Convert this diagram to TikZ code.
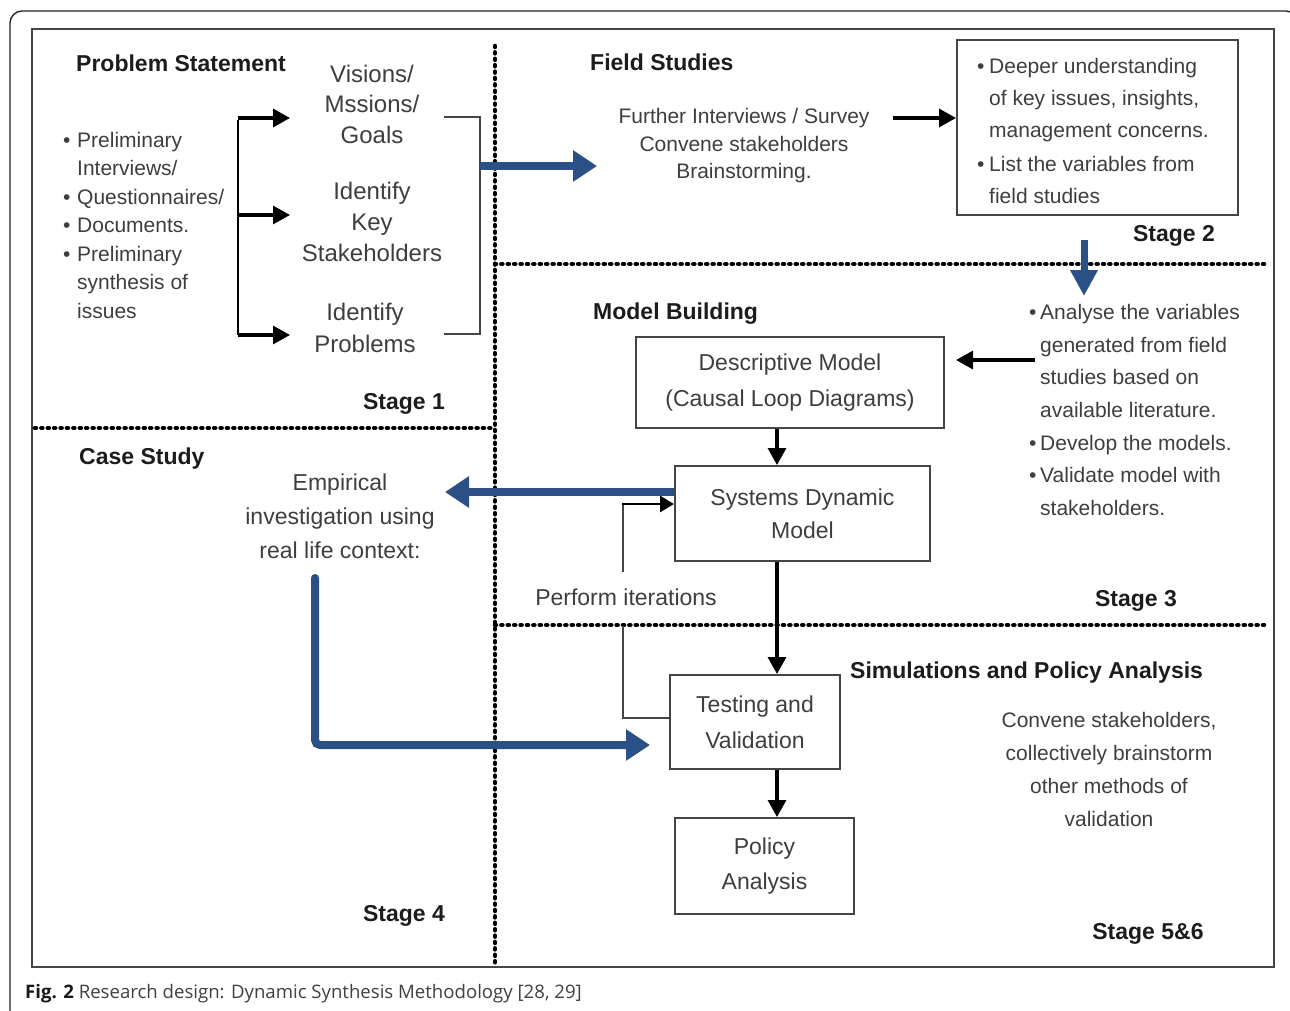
\documentclass[tikz,border=0pt]{standalone}
\usepackage{fontspec}
\setmainfont{Liberation Sans}
\newfontfamily\capfont{Open Sans}
\usetikzlibrary{arrows.meta}

\definecolor{txtgray}{HTML}{3E3E3E}
\definecolor{hdrblack}{HTML}{1C1C1C}
\definecolor{dsmblue}{HTML}{2B5086}
\definecolor{framegray}{HTML}{454545}

\begin{document}
\begin{tikzpicture}[x=1pt,y=-1pt,
  body/.style={text=txtgray, font=\fontsize{23}{34}\selectfont, align=center, inner sep=0pt},
  small/.style={text=txtgray, font=\fontsize{21}{28}\selectfont, align=left, inner sep=0pt},
  hdr/.style={text=hdrblack, font=\bfseries\fontsize{23}{27}\selectfont, inner sep=0pt},
  stagebox/.style={draw=framegray, line width=2pt, inner sep=0pt},
  blk/.style={draw=black, line width=3.2pt, -{Triangle[length=17pt,width=18pt]}},
  blu/.style={draw=dsmblue, line width=8pt, -{Triangle[length=24pt,width=30pt]}},
  guide/.style={draw=framegray, line width=1.6pt},
  dotline/.style={draw=black, line width=4.6pt, line cap=round, dash pattern=on 1pt off 5.4pt},
]
\useasboundingbox (0,0) rectangle (1290,1010);
\fill[white] (0,0) rectangle (1290,1010);

% outer rounded frame and the inner border
\draw[line width=1.4pt, draw=black!85, rounded corners=12pt] (10,1040) -- (10,11) -- (1298,11) -- (1298,1040);
\draw[line width=2.5pt, draw=framegray] (32,29) rectangle (1274,967);

% stage separators
\draw[dotline] (495,46) -- (495,964);
\draw[dotline] (35,428) -- (495,428);
\draw[dotline] (495,264) -- (1264,264);
\draw[dotline] (495,625) -- (1264,625);

% ---------------- Stage 1: problem statement
\node[hdr, anchor=west] (ps) at (76,63) {Problem Statement};
\node[small, anchor=west, font=\fontsize{21}{28.5}\selectfont] (pre) at (63,225)
  {\makebox[14pt][l]{•}Preliminary\\
   \hspace*{14pt}Interviews/\\
   \makebox[14pt][l]{•}Questionnaires/\\
   \makebox[14pt][l]{•}Documents.\\
   \makebox[14pt][l]{•}Preliminary\\
   \hspace*{14pt}synthesis of\\
   \hspace*{14pt}issues};
\node[body, font=\fontsize{24}{30.5}\selectfont] (vis) at (372,104) {Visions/\\Mssions/\\Goals};
\node[body, font=\fontsize{24}{31}\selectfont] (key) at (372,222) {Identify\\Key\\Stakeholders};
\node[body, font=\fontsize{24}{32}\selectfont] (prob) at (365,328) {Identify\\Problems};

\coordinate (fanT) at (238,118);
\coordinate (fanM) at (238,215);
\coordinate (fanB) at (238,335);
\draw[line width=2pt] ([yshift=-2pt]fanT) -- (fanB);
\draw[blk] (fanT) -- (fanT -| 290,0);
\draw[blk] (fanM) -- (fanM -| 290,0);
\draw[blk] (fanB) -- (fanB -| 290,0);

\coordinate (brT) at (444,117);
\coordinate (brB) at (444,334);
\draw[guide] (brT) -- (480,117) -- (480,334) -- (brB);

\coordinate (toFS) at (597,166);
\draw[blu] (480,166) -- (toFS);

\node[hdr] (st1) at (404,404) {Stage 1};

% ---------------- Stage 2: field studies
\node[hdr, anchor=west] (fs) at (590,62) {Field Studies};
\node[small, align=center, font=\fontsize{21}{27.5}\selectfont] (fsb) at (744,146)
  {Further Interviews / Survey\\Convene stakeholders\\Brainstorming.};
\node[stagebox, minimum width=281pt, minimum height=175pt] (fsbox) at (1097.5,127.5) {};
\node[small, anchor=north west, font=\fontsize{21}{32}\selectfont] (fst) at (977,58)
  {\makebox[12pt][l]{•}Deeper understanding\\
   \hspace*{12pt}of key issues, insights,\\
   \hspace*{12pt}management concerns.\\[2pt]
   \makebox[12pt][l]{•}List the variables from\\
   \hspace*{12pt}field studies};
\coordinate (fsR) at (893,118);
\draw[blk] (fsR) -- (fsR -| fsbox.west);

\node[hdr] (st2) at (1174,236) {Stage 2};
\coordinate (dnA) at (1084,240);
\coordinate (dnB) at (1084,296);
\draw[draw=dsmblue, line width=7pt, -{Triangle[length=26pt,width=26pt]}] (dnA) -- (dnB);

% ---------------- Stage 3: model building
\node[hdr, anchor=west] (mb) at (593,314) {Model Building};
\node[stagebox, body, minimum width=308pt, minimum height=91pt, font=\fontsize{23}{36}\selectfont]
  (desc) at (790,382.5) {Descriptive Model\\(Causal Loop Diagrams)};
\node[small, anchor=west, font=\fontsize{21}{32.6}\selectfont] (ana) at (1029,410)
  {\makebox[11pt][l]{•}Analyse the variables\\
   \hspace*{11pt}generated from field\\
   \hspace*{11pt}studies based on\\
   \hspace*{11pt}available literature.\\
   \makebox[11pt][l]{•}Develop the models.\\
   \makebox[11pt][l]{•}Validate model with\\
   \hspace*{11pt}stakeholders.};
\coordinate (anaL) at (1035,360);
\draw[blk, shorten >=11pt] (anaL) -- (anaL -| desc.east);

\node[stagebox, body, minimum width=255pt, minimum height=95pt, font=\fontsize{23}{33}\selectfont]
  (sd) at (802.5,513.5) {Systems Dynamic\\Model};
\coordinate (spine) at (777,0);
\draw[blk] (desc.south -| spine) -- (sd.north -| spine);

\node[body] (iter) at (626,597) {Perform iterations};
\node[hdr] (st3) at (1136,601) {Stage 3};

% ---------------- Stage 4: case study
\node[hdr, anchor=west] (cs) at (79,459) {Case Study};
\node[body, font=\fontsize{23}{34}\selectfont] (emp) at (340,516)
  {Empirical\\investigation using\\real life context:};
\coordinate (empR) at (445,492);
\draw[blu] (sd.west |- empR) -- (empR);
\node[hdr] (st4) at (404,916) {Stage 4};

% ---------------- Stage 5 & 6: simulations and policy analysis
\node[hdr, anchor=west] (sim) at (850,673) {Simulations and Policy Analysis};
\node[stagebox, body, minimum width=170pt, minimum height=94pt, font=\fontsize{23}{36}\selectfont]
  (tv) at (755,722) {Testing and\\Validation};
\node[stagebox, body, minimum width=179pt, minimum height=96pt, font=\fontsize{23}{35}\selectfont]
  (pa) at (764.5,866) {Policy\\Analysis};
\node[small, align=center, font=\fontsize{21}{33}\selectfont] (conv) at (1109,769)
  {Convene stakeholders,\\collectively brainstorm\\other methods of\\validation};
\node[hdr] (st56) at (1148,934) {Stage 5\&6};

\draw[blk] (sd.south -| spine) -- (tv.north -| spine);
\draw[blk] (tv.south -| spine) -- (pa.north -| spine);

% iteration loop back to the system dynamics model
\coordinate (loopL) at (623,718);
\coordinate (loopU) at (623,572);
\coordinate (loopT) at (623,504);
\draw[guide] (tv.west |- loopL) -- (loopL) -- (623,626);
\draw[guide] (loopU) -- (loopT);
\draw[line width=2.6pt, -{Triangle[length=14pt,width=16pt]}] ([xshift=-0.8pt]loopT) -- (sd.west |- loopT);

% case study evidence feeding the testing stage
\coordinate (cbA) at (315,578);
\coordinate (cbB) at (650,745);
\draw[blu, line cap=round, rounded corners=5pt] (cbA) -- (cbA |- cbB) -- (cbB);

% caption
\node[anchor=west, inner sep=0pt, text=black!75, font=\capfont\fontsize{18.6}{22}\selectfont] (cap) at (25,994)
  {\textbf{\color{black!90}Fig. 2} Research design: Dynamic Synthesis Methodology [28, 29]};
\end{tikzpicture}
\end{document}
